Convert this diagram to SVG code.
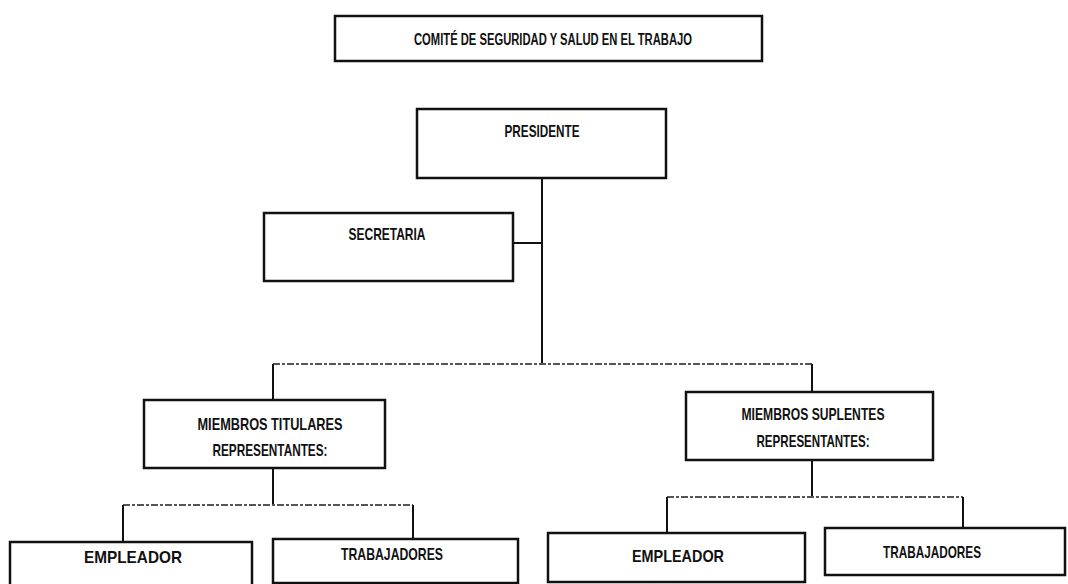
<svg xmlns="http://www.w3.org/2000/svg" width="1068" height="584" viewBox="0 0 1068 584">
<style>
.box{fill:#fff;stroke:#111;stroke-width:2.5}
.t{font-family:"Liberation Sans",Arial,sans-serif;font-weight:bold;font-size:17px;fill:#111;text-anchor:middle}
.s{font-size:16px}
.ln{stroke:#111;stroke-width:2;fill:none}
.dl{stroke:#555;stroke-width:1.8;fill:none;stroke-dasharray:7 2 3 2}
</style>
<rect width="1068" height="584" fill="#fff"/>
<g id="connectors">
<line class="ln" x1="542" y1="178" x2="542" y2="364"/>
<line class="ln" x1="513" y1="243" x2="542" y2="243"/>
<line class="dl" x1="273" y1="364" x2="814" y2="364"/>
<line class="ln" x1="273" y1="364" x2="273" y2="400"/>
<line class="ln" x1="812" y1="364" x2="812" y2="392"/>
<line class="ln" x1="273" y1="468" x2="273" y2="505"/>
<line class="dl" x1="123" y1="505" x2="413" y2="505"/>
<line class="ln" x1="123" y1="505" x2="123" y2="542"/>
<line class="ln" x1="413" y1="505" x2="413" y2="539"/>
<line class="ln" x1="812" y1="460" x2="812" y2="497"/>
<line class="dl" x1="667" y1="497" x2="963" y2="497"/>
<line class="ln" x1="667" y1="497" x2="667" y2="533"/>
<line class="ln" x1="963" y1="497" x2="963" y2="528"/>
</g>
<g id="titulo">
<rect class="box" x="335" y="16" width="427" height="45"/>
<text class="t s" x="553" y="45" textLength="278" lengthAdjust="spacingAndGlyphs">COMITÉ DE SEGURIDAD Y SALUD EN EL TRABAJO</text>
</g>
<g id="presidente">
<rect class="box" x="417" y="109" width="249" height="69"/>
<text class="t" x="542" y="137" textLength="75" lengthAdjust="spacingAndGlyphs">PRESIDENTE</text>
</g>
<g id="secretaria">
<rect class="box" x="264" y="213" width="249" height="68"/>
<text class="t" x="387" y="240" textLength="77" lengthAdjust="spacingAndGlyphs">SECRETARIA</text>
</g>
<g id="titulares">
<rect class="box" x="144" y="400" width="241" height="68"/>
<text class="t" x="270" y="430" textLength="145" lengthAdjust="spacingAndGlyphs">MIEMBROS TITULARES</text>
<text class="t" x="270" y="456" textLength="115" lengthAdjust="spacingAndGlyphs">REPRESENTANTES:</text>
</g>
<g id="suplentes">
<rect class="box" x="686" y="392" width="247" height="68"/>
<text class="t" x="813" y="420" textLength="143" lengthAdjust="spacingAndGlyphs">MIEMBROS SUPLENTES</text>
<text class="t" x="813" y="447" textLength="113" lengthAdjust="spacingAndGlyphs">REPRESENTANTES:</text>
</g>
<g id="empleador1">
<rect class="box" x="10" y="542" width="242" height="50"/>
<text class="t" x="133" y="563" textLength="98" lengthAdjust="spacingAndGlyphs">EMPLEADOR</text>
</g>
<g id="trabajadores1">
<rect class="box" x="273" y="539" width="245" height="44"/>
<text class="t" x="392" y="560" textLength="102" lengthAdjust="spacingAndGlyphs">TRABAJADORES</text>
</g>
<g id="empleador2">
<rect class="box" x="548" y="533" width="257" height="49"/>
<text class="t" x="678" y="562" textLength="92" lengthAdjust="spacingAndGlyphs">EMPLEADOR</text>
</g>
<g id="trabajadores2">
<rect class="box" x="825" y="528" width="240" height="47"/>
<text class="t" x="932" y="558" textLength="98" lengthAdjust="spacingAndGlyphs">TRABAJADORES</text>
</g>
</svg>
